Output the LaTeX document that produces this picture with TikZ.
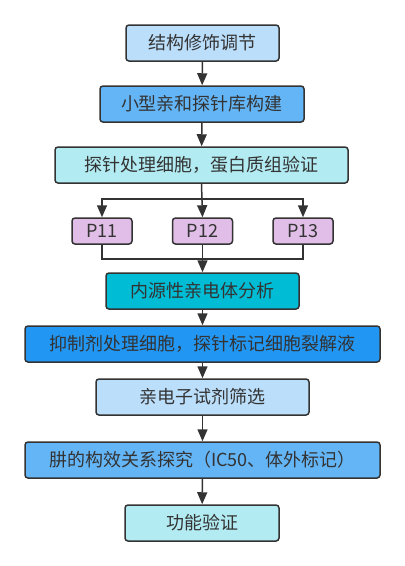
\documentclass[tikz,border=0pt]{standalone}
\usepackage{fontspec}
\setmainfont{Noto Sans CJK SC}
\usetikzlibrary{arrows.meta}
\definecolor{ink}{HTML}{333333}
\definecolor{lblue}{HTML}{BBDEFB}
\definecolor{mblue}{HTML}{64B5F6}
\definecolor{dblue}{HTML}{2196F3}
\definecolor{lcyan}{HTML}{B2EBF2}
\definecolor{dcyan}{HTML}{00BCD4}
\definecolor{lav}{HTML}{E1BEE7}
\tikzset{
  box/.style={draw=ink, line width=1.5pt, rounded corners=3pt, minimum height=36pt,
    inner sep=0pt, text=ink, font=\fontsize{18}{21}\selectfont, anchor=center},
  pbox/.style={box, fill=lav, minimum height=26pt, minimum width=60pt},
  arr/.style={draw=ink, line width=1.5pt, -{Triangle[length=12pt,width=10pt]}},
  ln/.style={draw=ink, line width=1.5pt}
}
\begin{document}
\begin{tikzpicture}[x=1pt,y=-1pt]
\useasboundingbox (0,0) rectangle (405,566);
\node[box, fill=lblue, minimum width=153pt] (b1) at (202.5,43) {结构修饰调节};
\node[box, fill=mblue, minimum width=204pt] (b2) at (202,104) {小型亲和探针库构建};
\node[box, fill=lcyan, minimum width=293pt] (b3) at (201.5,165) {探针处理细胞，蛋白质组验证};
\node[pbox] (p11) at (102,231) {P11};
\node[pbox] (p12) at (202.5,231) {P12};
\node[pbox] (p13) at (303,231) {P13};
\node[box, fill=dcyan, minimum width=193pt] (b4) at (202.5,291) {内源性亲电体分析};
\node[box, fill=dblue, minimum width=355pt] (b5) at (202.5,344) {抑制剂处理细胞，探针标记细胞裂解液};
\node[box, fill=lblue, minimum width=213pt] (b6) at (202.5,397) {亲电子试剂筛选};
\node[box, fill=mblue, minimum width=355pt] (b7) at (202.5,460) {肼的构效关系探究（IC50、体外标记）};
\node[box, fill=lcyan, minimum width=154pt] (b8) at (202,523) {功能验证};
\coordinate (split) at (202.5,199);
\coordinate (merge) at (202.5,259);
\draw[arr] (b1) -- (b2);
\draw[arr] (b2) -- (b3);
\draw[arr] (b3.south) -- (p12.north);
\draw[arr] (split) -| (p11.north);
\draw[arr] (split) -| (p13.north);
\draw[ln] (p11.south) |- (merge);
\draw[ln] (p13.south) |- (merge);
\draw[arr] (p12.south) -- (b4.north);
\draw[arr] (b4) -- (b5);
\draw[arr] (b5) -- (b6);
\draw[arr] (b6) -- (b7);
\draw[arr] (b7) -- (b8);
\end{tikzpicture}
\end{document}
